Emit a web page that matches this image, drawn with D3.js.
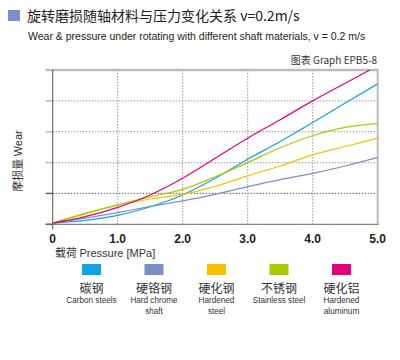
<!DOCTYPE html>
<html><head><meta charset="utf-8">
<script src="https://cdn.jsdelivr.net/npm/d3@7"></script>
<style>
html,body{margin:0;padding:0;background:#fff;}
svg{display:block;font-family:"Liberation Sans",Arial,sans-serif;}
</style></head>
<body><svg id="c" width="400" height="360"></svg>
<script>
const pressures = [0, 0.5, 1.0, 1.5, 2.0, 2.5, 3.0, 3.5, 4.0, 4.5, 5.0];
const carbonSteel   = [0.04, 0.13, 0.29, 0.57, 0.95, 1.49, 2.11, 2.68, 3.30, 3.93, 4.55];
const hardChrome    = [0.04, 0.20, 0.38, 0.58, 0.76, 0.97, 1.22, 1.45, 1.65, 1.89, 2.17];
const hardenedSteel = [0.04, 0.36, 0.62, 0.82, 0.97, 1.23, 1.57, 1.89, 2.25, 2.52, 2.79];
const stainless     = [0.04, 0.34, 0.63, 0.89, 1.13, 1.54, 2.00, 2.48, 2.87, 3.14, 3.26];
const hardenedAlu   = [0.04, 0.25, 0.55, 0.95, 1.49, 2.14, 2.79, 3.39, 4.00, 4.57, 5.14];
const xTicks = [0, 1, 2, 3, 4, 5];
const xTickLabels = ["0", "1.0", "2.0", "3.0", "4.0", "5.0"];
const yTicks = [0, 1, 2, 3, 4, 5];
const seriesNamesZh = ["碳钢", "硬铬钢", "硬化钢", "不锈钢", "硬化铝"];
const seriesNamesEn = [["Carbon steels"], ["Hard chrome", "shaft"], ["Hardened", "steel"], ["Stainless steel"], ["Hardened", "aluminum"]];
const seriesColors = ["#12a2e6", "#7b8ec8", "#f9bf00", "#a9cb00", "#e5007e"];
const seriesData = [carbonSteel, hardChrome, hardenedSteel, stainless, hardenedAlu];

const cjk = "'Noto Sans CJK SC','Liberation Sans',sans-serif";

const svg = d3.select("#c");
const x = d3.scaleLinear().domain([0, 5]).range([52.7, 377.7]);
const y = d3.scaleLinear().domain([0, 5]).range([224.3, 70]);

// title
svg.append("rect").attr("x", 8).attr("y", 10).attr("width", 12).attr("height", 11).attr("fill", "#7b8ecc");
svg.append("text").attr("x", 27).attr("y", 21).attr("font-size", 14).attr("fill", "#222")
  .attr("font-family", cjk)
  .text("旋转磨损随轴材料与压力变化关系 v=0.2m/s");
svg.append("text").attr("x", 28).attr("y", 40).attr("font-size", 10.5).attr("fill", "#222")
  .text("Wear & pressure under rotating with different shaft materials, v = 0.2 m/s");
svg.append("text").attr("x", 377).attr("y", 64).attr("font-size", 10).attr("fill", "#333")
  .attr("text-anchor", "end").attr("font-family", cjk)
  .text("图表 Graph EPB5-8");

// grid
const g = svg.append("g");
g.selectAll("line.vg").data(xTicks.slice(1, 5)).join("line")
  .attr("x1", d => x(d)).attr("x2", d => x(d)).attr("y1", y(5)).attr("y2", y(0))
  .attr("stroke", "#999").attr("stroke-width", 1).attr("stroke-dasharray", "1.5,1.5");
g.selectAll("line.hg").data(yTicks.slice(1, 5)).join("line")
  .attr("x1", x(0)).attr("x2", x(5)).attr("y1", d => y(d)).attr("y2", d => y(d))
  .attr("stroke", d => d === 1 ? "#777" : "#aaa").attr("stroke-width", 1.2).attr("stroke-dasharray", "1.5,1.5");
// left ticks
g.selectAll("line.lt").data(yTicks).join("line")
  .attr("x1", x(0) - 7).attr("x2", x(0)).attr("y1", d => y(d)).attr("y2", d => y(d))
  .attr("stroke", d => d <= 1 ? "#666" : "#bbb").attr("stroke-width", 1.5);
// frame
g.append("line").attr("x1", x(0) - 7).attr("x2", x(5) + 1).attr("y1", y(5)).attr("y2", y(5)).attr("stroke", "#bbb").attr("stroke-width", 2.5);
g.append("line").attr("x1", x(5)).attr("x2", x(5)).attr("y1", y(5)).attr("y2", y(0)).attr("stroke", "#bbb").attr("stroke-width", 2);
g.append("line").attr("x1", x(0) - 7).attr("x2", x(5) + 1).attr("y1", y(0)).attr("y2", y(0)).attr("stroke", "#666").attr("stroke-width", 1);
g.append("line").attr("x1", x(0)).attr("x2", x(0)).attr("y1", y(5)).attr("y2", y(0) + 5).attr("stroke", "#555").attr("stroke-width", 1);

// clip
svg.append("clipPath").attr("id", "pc").append("rect")
  .attr("x", x(0)).attr("y", y(5)).attr("width", x(5) - x(0)).attr("height", y(0) - y(5));

const line = d3.line().x((d, i) => x(pressures[i])).y(d => y(d)).curve(d3.curveMonotoneX);
svg.append("g").attr("clip-path", "url(#pc)").selectAll("path").data(seriesData).join("path")
  .attr("d", d => line(d)).attr("fill", "none")
  .attr("stroke", (d, i) => seriesColors[i]).attr("stroke-width", 1.2);

// x tick labels
svg.selectAll("text.xt").data(xTicks).join("text")
  .attr("x", d => x(d)).attr("y", 243).attr("text-anchor", "middle")
  .attr("font-size", 12).attr("font-weight", "bold").attr("fill", "#222")
  .text((d, i) => xTickLabels[i]);

// axis titles
const at = svg.append("text").attr("x", 55).attr("y", 257).attr("font-size", 11).attr("fill", "#333");
at.append("tspan").attr("font-family", cjk).text("载荷 ");
at.append("tspan").text("Pressure  [MPa]");
const yt = svg.append("text").attr("transform", "translate(22,161) rotate(-90)").attr("text-anchor", "middle")
  .attr("font-size", 11).attr("fill", "#333");
yt.append("tspan").attr("font-family", cjk).text("摩损量 ");
yt.append("tspan").text("Wear");

// legend
const legendX = d3.scalePoint().domain(d3.range(5)).range([91.5, 341.5]);
const lg = svg.selectAll("g.lg").data(seriesNamesZh).join("g").attr("transform", (d, i) => `translate(${legendX(i)},0)`);
lg.append("rect").attr("x", -9.5).attr("y", 264).attr("width", 19).attr("height", 11).attr("fill", (d, i) => seriesColors[i]);
lg.append("text").attr("y", 292.5).attr("text-anchor", "middle").attr("font-size", 12).attr("fill", "#333")
  .attr("font-family", cjk).text(d => d);
lg.each(function(d, i) {
  d3.select(this).selectAll("text.en").data(seriesNamesEn[i]).join("text")
    .attr("transform", "scale(0.86,1)")
    .attr("y", (t, j) => 303 + j * 11.5).attr("text-anchor", "middle").attr("font-size", 9.5)
    .attr("fill", "#333")
    .text(t => t);
});
</script></body></html>
